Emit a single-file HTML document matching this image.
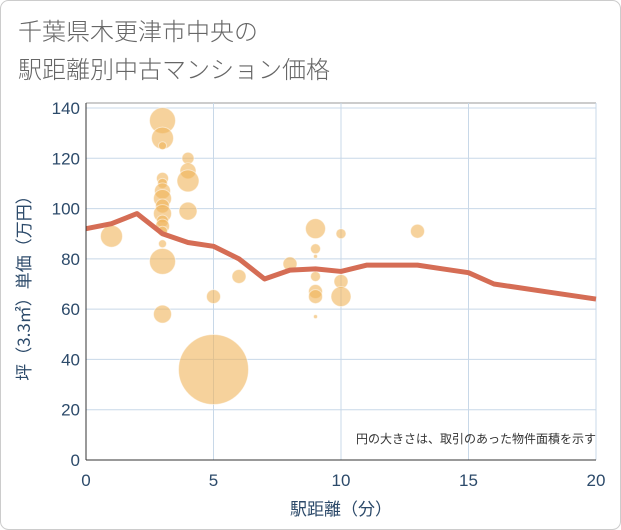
<!DOCTYPE html>
<html><head><meta charset="utf-8"><style>
body{margin:0;background:#fff;}
#c{position:relative;width:621px;height:530px;overflow:hidden;font-family:"Liberation Sans","Noto Sans CJK JP",sans-serif;}
</style></head><body>
<div id="c">
<svg id="s" width="621" height="530" xmlns="http://www.w3.org/2000/svg">
<rect x="0.5" y="0.5" width="620" height="529" rx="8" fill="#fff" stroke="#ccc"/>
<text x="18" y="40" font-size="24" fill="#666" font-family="Noto Sans CJK JP,sans-serif" font-weight="300">千葉県木更津市中央の</text>
<text x="18" y="78" font-size="24" fill="#666" font-family="Noto Sans CJK JP,sans-serif" font-weight="300">駅距離別中古マンション価格</text>
<g id="grid"></g><g id="bub"></g><g id="ln"></g><g id="ax"></g>
<text x="596" y="443" font-size="12" fill="#333" text-anchor="end" font-family="Liberation Sans,Noto Sans CJK JP,sans-serif">円の大きさは、取引のあった物件面積を示す</text>
<text x="341" y="515" font-size="17" fill="#2c4a6a" text-anchor="middle" font-family="Noto Sans CJK JP,sans-serif">駅距離（分）</text>
<text transform="translate(30,284) rotate(-90)" font-size="17" fill="#2c4a6a" text-anchor="middle" font-family="Noto Sans CJK JP,sans-serif">坪（3.3㎡）単価（万円）</text>
</svg>
</div>
<script>
const xTicks=[0,5,10,15,20];
const yTicks=[0,20,40,60,80,100,120,140];
const bubbleX=[1,3,3,3,3,3,3,3,3,3,3,3,3,3,3,3,4,4,4,4,5,5,6,8,9,9,9,9,9,9,9,10,10,10,13];
const bubbleY=[89,135,128,125,112,110,107,104,101,98,95,93,91,86,79,58,120,115,111,99,36,65,73,78,92,84,81,73,67,65,57,90,71,65,91];
const bubbleR=[11,13,11,4,6,5,8,9,7,9,6,7,5,4,13,9,6,8,11,9,35,7,7,7,10,5,2,5,7,7,2,5,7,10,7];
const lineX=[0,1,2,3,4,5,6,7,8,9,10,11,12,13,14,15,16,17,18,19,20];
const lineY=[92,94,98,90,86.5,85,80,72,75.5,76,75,77.5,77.5,77.5,76,74.5,70,68.5,67,65.5,64];
const X0=86,X1=596,Y0=460,Y1=108;
const sx=v=>X0+(v-0)/(20)*(X1-X0);
const sy=v=>Y0-(v/140)*(Y0-Y1);
const NS="http://www.w3.org/2000/svg";
function mk(p,t,a){const e=document.createElementNS(NS,t);for(const k in a)e.setAttribute(k,a[k]);document.getElementById(p).appendChild(e);return e;}
let e=mk('grid','rect',{x:X0,y:103,width:X1-X0,height:Y0-103,fill:'#fff',stroke:'none'});


e=mk('grid','line',{x1:X0,x2:X1,y1:103,y2:103,stroke:'#999','stroke-width':1});


yTicks.forEach(v=>{
 if(v>0){const g=mk('grid','line',{x1:X0,x2:X1,y1:sy(v),y2:sy(v),stroke:'#c8d8e8','stroke-width':1});
 
 }
 const t=mk('ax','text',{x:X0-6,y:sy(v)+6,'font-size':17,fill:'#2c4a6a','text-anchor':'end'});t.textContent=v;
 
 
});
xTicks.forEach(v=>{
 if(v>0){const g=mk('grid','line',{x1:sx(v),x2:sx(v),y1:103,y2:Y0,stroke:'#c8d8e8','stroke-width':1});
 
 }
 const t=mk('ax','text',{x:sx(v),y:Y0+26,'font-size':17,fill:'#2c4a6a','text-anchor':'middle'});t.textContent=v;
 
 
});
e=mk('ax','line',{x1:X0,x2:X0,y1:103,y2:Y0,stroke:'#333','stroke-width':1});


e=mk('ax','line',{x1:X0,x2:X1,y1:Y0,y2:Y0,stroke:'#333','stroke-width':1});


bubbleX.forEach((x,i)=>{
 const c=mk('bub','circle',{cx:sx(x),cy:sy(bubbleY[i]),r:bubbleR[i],fill:'rgba(240,180,90,0.6)',stroke:'rgba(255,255,255,0.5)','stroke-width':1});
 
 
});
const p=mk('ln','polyline',{points:lineX.map((x,i)=>sx(x)+','+sy(lineY[i])).join(' '),fill:'none',stroke:'#d56d55','stroke-width':5,'stroke-linejoin':'round'});


</script>
</body></html>
